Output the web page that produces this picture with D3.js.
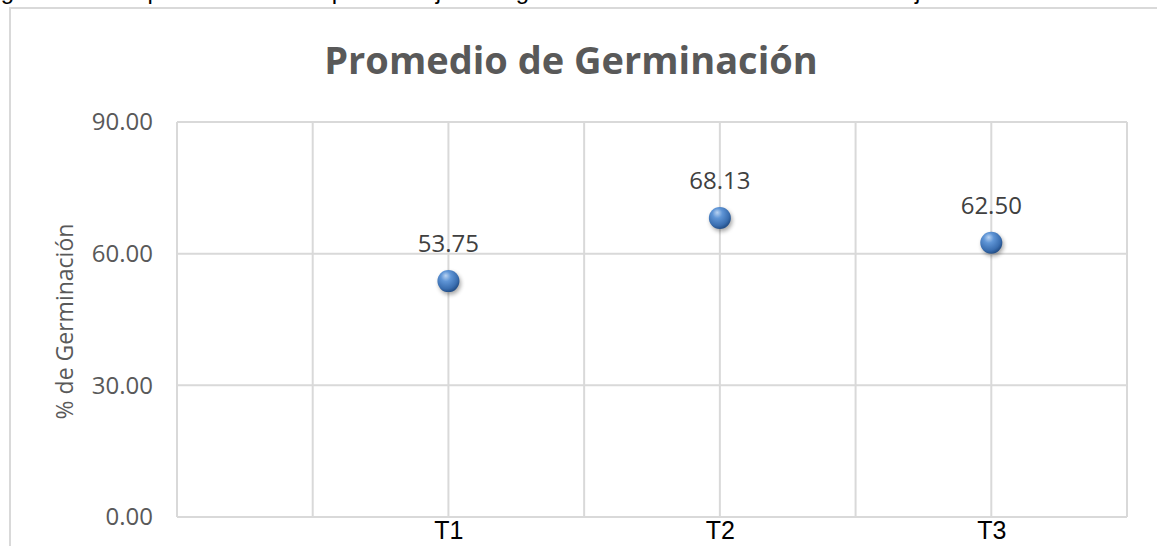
<!DOCTYPE html>
<html>
<head>
<meta charset="utf-8">
<script src="https://cdn.jsdelivr.net/npm/d3@7"></script>
<style>
  body { margin: 0; background: #fff; }
  svg { display: block; }
</style>
</head>
<body>
<div id="chart"></div>
<script>
// chart values
var categories = ["T1", "T2", "T3"];
var treatment = [1, 2, 3];
var germination = [53.75, 68.13, 62.50];
var yTicks = [0, 30, 60, 90];

var W = 1157, H = 546;
var margin = {top: 122, right: 30, bottom: 29, left: 177},
    width = W - margin.left - margin.right,
    height = H - margin.top - margin.bottom;

var x = d3.scaleLinear().domain([0, 3.5]).range([0, width]);
var y = d3.scaleLinear().domain([0, 90]).range([height, 0]);

var svg = d3.select("#chart").append("svg")
    .attr("width", W)
    .attr("height", H);

var defs = svg.append("defs");
var grad = defs.append("radialGradient")
    .attr("id", "ball")
    .attr("cx", "40%").attr("cy", "35%").attr("r", "65%")
    .attr("fx", "38%").attr("fy", "25%");
grad.append("stop").attr("offset", "0%").attr("stop-color", "#b9d3f2");
grad.append("stop").attr("offset", "35%").attr("stop-color", "#5f95d6");
grad.append("stop").attr("offset", "80%").attr("stop-color", "#3a6eb0");
grad.append("stop").attr("offset", "100%").attr("stop-color", "#24508a");

var blur = defs.append("filter").attr("id", "shadow")
    .attr("x", "-50%").attr("y", "-50%").attr("width", "200%").attr("height", "200%");
blur.append("feGaussianBlur").attr("stdDeviation", 2);

// caption cut by the top edge of the picture (only its lower part shows)
svg.append("text")
    .attr("x", -22)
    .attr("y", -1)
    .attr("font-family", "Liberation Sans, Arial, sans-serif")
    .attr("font-size", 24)
    .attr("fill", "#000")
    .attr("textLength", 1057)
    .text("Figura 8. Comparativo de los porcentajes de germinación de cada tratamiento junto SSO");

// chart frame
svg.append("rect")
    .attr("x", 10)
    .attr("y", 8)
    .attr("width", W + 20)
    .attr("height", H + 20)
    .attr("fill", "none")
    .attr("stroke", "#d9d9d9")
    .attr("stroke-width", 2);

// title
svg.append("text")
    .attr("x", 571)
    .attr("y", 74)
    .attr("text-anchor", "middle")
    .attr("font-family", "Open Sans, sans-serif")
    .attr("font-weight", "bold")
    .attr("font-size", 38)
    .attr("fill", "#595959")
    .text("Promedio de Germinación");

var plot = svg.append("g")
    .attr("transform", "translate(" + margin.left + "," + margin.top + ")");

// gridlines
plot.append("g")
    .selectAll("line")
    .data(yTicks)
    .enter().append("line")
    .attr("x1", 0).attr("x2", width)
    .attr("y1", function(d) { return y(d); })
    .attr("y2", function(d) { return y(d); })
    .attr("stroke", "#d9d9d9")
    .attr("stroke-width", 2);

plot.append("g")
    .selectAll("line")
    .data(d3.range(0, 3.51, 0.5))
    .enter().append("line")
    .attr("x1", function(d) { return x(d); })
    .attr("x2", function(d) { return x(d); })
    .attr("y1", 0).attr("y2", height)
    .attr("stroke", "#d9d9d9")
    .attr("stroke-width", 2);

// y axis
var yAxis = plot.append("g")
    .call(d3.axisLeft(y).tickValues(yTicks).tickSize(0).tickPadding(24)
        .tickFormat(d3.format(".2f")));
yAxis.select(".domain").remove();
yAxis.selectAll("text")
    .attr("font-family", "Open Sans, sans-serif")
    .attr("font-size", 24)
    .attr("fill", "#595959");

svg.append("text")
    .attr("transform", "translate(73," + (margin.top + height / 2 + 2) + ") rotate(-90)")
    .attr("text-anchor", "middle")
    .attr("font-family", "Open Sans, sans-serif")
    .attr("font-size", 23)
    .attr("fill", "#595959")
    .text("% de Germinación");

// x axis
var xAxis = plot.append("g")
    .attr("transform", "translate(0," + height + ")")
    .call(d3.axisBottom(x).tickValues(treatment).tickSize(0).tickPadding(4)
        .tickFormat(function(d, i) { return categories[i]; }));
xAxis.select(".domain").remove();
xAxis.selectAll("text")
    .attr("font-family", "Liberation Sans Narrow, Arial Narrow, sans-serif")
    .attr("font-size", 25)
    .attr("fill", "#000");

// points
var pts = plot.append("g")
    .selectAll("g")
    .data(germination)
    .enter().append("g");

pts.append("circle")
    .attr("cx", function(d, i) { return x(treatment[i]) + 1.5; })
    .attr("cy", function(d) { return y(d) + 2.5; })
    .attr("r", 11)
    .attr("fill", "#000")
    .attr("opacity", 0.35)
    .attr("filter", "url(#shadow)");

pts.append("circle")
    .attr("cx", function(d, i) { return x(treatment[i]); })
    .attr("cy", function(d) { return y(d); })
    .attr("r", 11)
    .attr("fill", "url(#ball)");

pts.append("text")
    .attr("x", function(d, i) { return x(treatment[i]); })
    .attr("y", function(d) { return y(d) - 29; })
    .attr("text-anchor", "middle")
    .attr("font-family", "Open Sans, sans-serif")
    .attr("font-size", 24)
    .attr("fill", "#404040")
    .text(function(d) { return d3.format(".2f")(d); });
</script>
</body>
</html>
